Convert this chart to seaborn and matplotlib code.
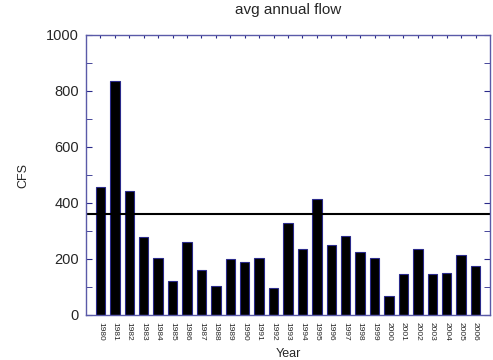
import matplotlib
matplotlib.use("Agg")
import matplotlib.pyplot as plt
import seaborn as sns
import pandas as pd
from matplotlib.ticker import MultipleLocator

years = [str(y) for y in range(1980, 2007)]
flow = [457, 836, 443, 279, 204, 121, 261, 161, 104, 200, 189, 204, 96, 329,
        236, 414, 250, 283, 225, 204, 68, 146, 236, 146, 149, 215, 175]
avg_line = 362

df = pd.DataFrame({"Year": years, "CFS": flow})

sns.set_style("white")
plt.rcParams["font.family"] = ["Liberation Sans", "DejaVu Sans"]

fig = plt.figure(figsize=(4.93, 3.6), dpi=100)
ax = fig.add_axes([86 / 493, 1 - 315 / 360, 404 / 493, 280 / 360])

edge = "#2a2a8a"
sns.barplot(data=df, x="Year", y="CFS", color="black", width=0.65,
            edgecolor=edge, linewidth=0.8, saturation=1, ax=ax)
ax.axhline(avg_line, color="black", linewidth=1.5)

ax.set_xlim(-1, len(years))
ax.set_ylim(0, 1000)
ax.yaxis.set_major_locator(MultipleLocator(200))
ax.yaxis.set_minor_locator(MultipleLocator(100))

spine_c = "#5a5aa8"
for s in ax.spines.values():
    s.set_color(spine_c)
    s.set_linewidth(1.0)

ax.tick_params(axis="y", which="both", direction="in", left=True, right=True,
               color=edge, length=4, labelsize=10.5, pad=5)
ax.tick_params(axis="x", which="both", direction="in", top=True, bottom=False,
               color=edge, length=2, labelsize=6, labelrotation=270, pad=5)

ax.set_title("avg annual flow", fontsize=11, pad=15)
ax.set_xlabel("Year", fontsize=9, labelpad=5)
ax.set_ylabel("CFS", fontsize=9, labelpad=12)

fig.savefig("out.png", dpi=100)
